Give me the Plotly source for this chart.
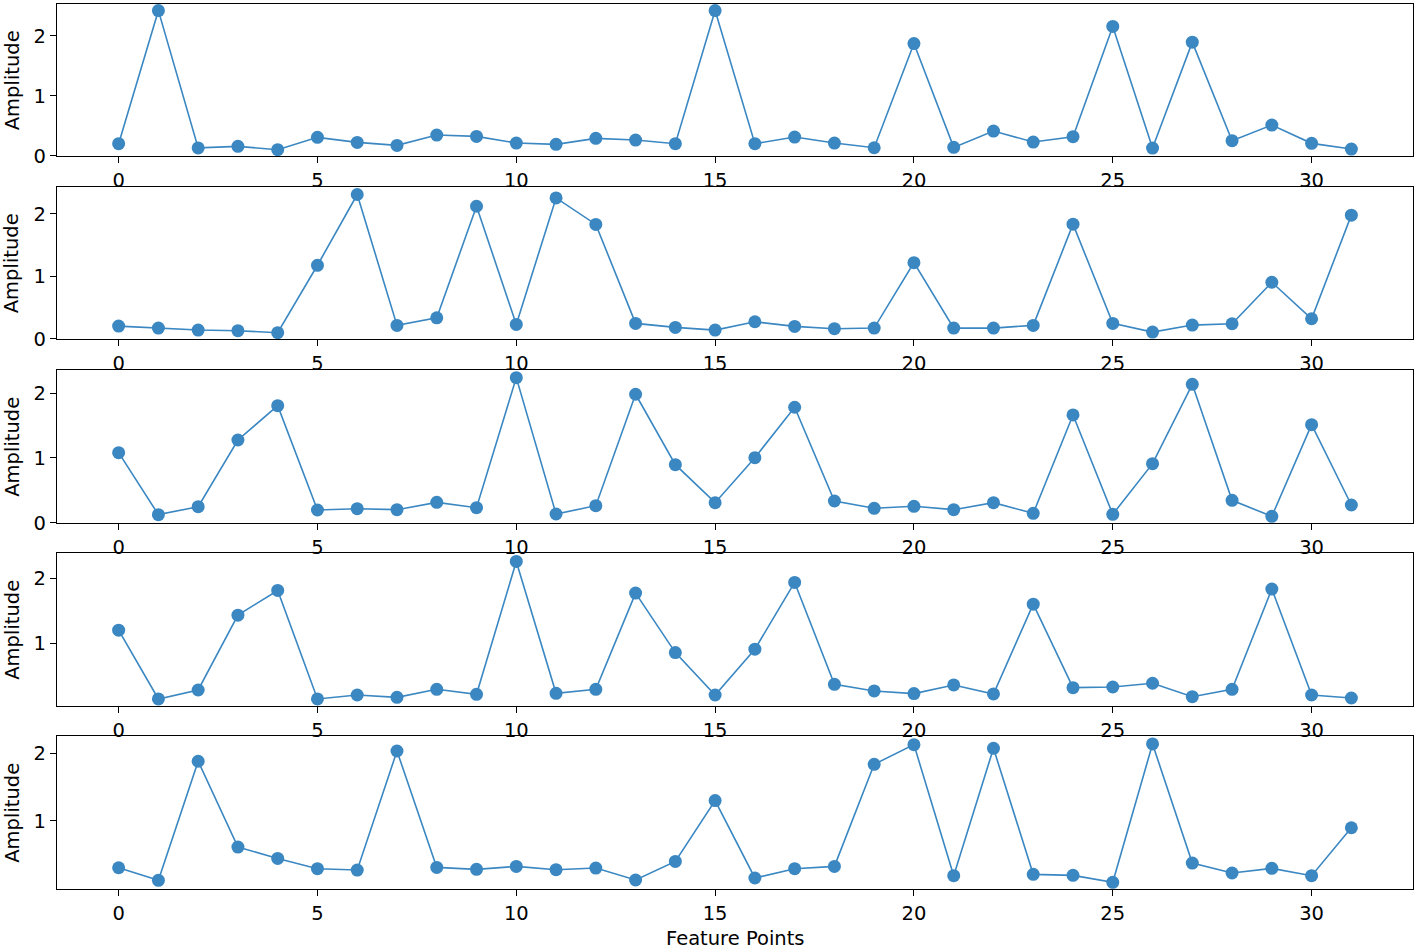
import plotly.graph_objects as go
from plotly.subplots import make_subplots

feature_points = list(range(32))

amp_1 = [0.20, 2.42, 0.13, 0.156, 0.10, 0.306, 0.222, 0.172, 0.344, 0.322, 0.211, 0.189, 0.289, 0.261, 0.20, 2.42,
         0.20, 0.311, 0.211, 0.133, 1.87, 0.139, 0.411, 0.228, 0.317, 2.156, 0.128, 1.894, 0.25, 0.511, 0.206, 0.111]
amp_2 = [0.202, 0.17, 0.138, 0.128, 0.096, 1.176, 2.31, 0.213, 0.335, 2.122, 0.229, 2.255, 1.83, 0.245, 0.181, 0.138,
         0.271, 0.197, 0.16, 0.17, 1.218, 0.17, 0.17, 0.213, 1.835, 0.245, 0.106, 0.218, 0.239, 0.904, 0.319, 1.979]
amp_3 = [1.082, 0.124, 0.247, 1.278, 1.809, 0.196, 0.216, 0.201, 0.314, 0.232, 2.242, 0.134, 0.263, 1.985, 0.897, 0.309,
         1.005, 1.784, 0.335, 0.222, 0.253, 0.201, 0.309, 0.144, 1.665, 0.129, 0.912, 2.139, 0.345, 0.098, 1.515, 0.273]
amp_4 = [1.20, 0.144, 0.282, 1.431, 1.81, 0.144, 0.205, 0.169, 0.292, 0.215, 2.256, 0.231, 0.292, 1.769, 0.856, 0.205,
         0.908, 1.933, 0.369, 0.267, 0.226, 0.359, 0.221, 1.60, 0.318, 0.328, 0.385, 0.179, 0.292, 1.831, 0.205, 0.159]
amp_5 = [0.305, 0.118, 1.882, 0.611, 0.443, 0.291, 0.271, 2.034, 0.31, 0.281, 0.325, 0.276, 0.30, 0.123, 0.399, 1.30,
         0.153, 0.291, 0.325, 1.837, 2.128, 0.187, 2.074, 0.207, 0.192, 0.089, 2.138, 0.374, 0.227, 0.296, 0.187, 0.897]

series = [amp_1, amp_2, amp_3, amp_4, amp_5]
y_ranges = [[-0.005, 2.53], [-0.005, 2.43], [-0.005, 2.36], [0.036, 2.385], [-0.01, 2.256]]
y_ticks = [[0, 1, 2], [0, 1, 2], [0, 1, 2], [1, 2], [1, 2]]
x_ticks = [0, 5, 10, 15, 20, 25, 30]

# panel pixel bounds (top, bottom) in a 950px tall figure
panel_px = [(4, 156), (187, 339), (370, 523), (553, 706), (736, 889)]
M_T, M_B, H = 4, 61, 950
plot_h = H - M_T - M_B

def py(p):
    return 1 - (p - M_T) / plot_h

COLOR = "#3a87c2"
FONT = "DejaVu Sans"
FS = 19.5

fig = make_subplots(rows=5, cols=1)
for i, ys in enumerate(series):
    fig.add_trace(go.Scatter(x=feature_points, y=ys, mode="lines+markers",
                             line=dict(color=COLOR, width=1.6),
                             marker=dict(color=COLOR, size=13),
                             showlegend=False, cliponaxis=False), row=i + 1, col=1)

for i in range(5):
    top, bot = panel_px[i]
    ax = "" if i == 0 else str(i + 1)
    fig.layout["yaxis" + ax].update(
        domain=[py(bot), py(top)], range=y_ranges[i], tickvals=y_ticks[i],
        showgrid=False, zeroline=False, showline=True, mirror=True, linecolor="black", linewidth=1.2,
        ticks="outside", ticklen=6, tickcolor="black", tickfont=dict(family=FONT, size=FS, color="black"))
    fig.layout["xaxis" + ax].update(
        range=[-1.55, 32.55], tickvals=x_ticks,
        showgrid=False, zeroline=False, showline=True, mirror=True, linecolor="black", linewidth=1.2,
        ticks="outside", ticklen=6, tickcolor="black", tickfont=dict(family=FONT, size=FS, color="black"))
    fig.add_annotation(text="Amplitude", xref="paper", yref="paper", x=-0.033, y=(py(top) + py(bot)) / 2,
                       textangle=-90, showarrow=False, xanchor="center", yanchor="middle",
                       font=dict(family=FONT, size=FS, color="black"))

fig.add_annotation(text="Feature Points", xref="paper", yref="paper", x=0.5, y=py(939),
                   showarrow=False, xanchor="center", yanchor="middle",
                   font=dict(family=FONT, size=FS, color="black"))

fig.update_layout(width=1418, height=950, margin=dict(l=57, r=5, t=M_T, b=M_B),
                  plot_bgcolor="white", paper_bgcolor="white")

fig.write_html("out.html", config={"displayModeBar": False},
               post_script="document.body.style.margin='0px';")
